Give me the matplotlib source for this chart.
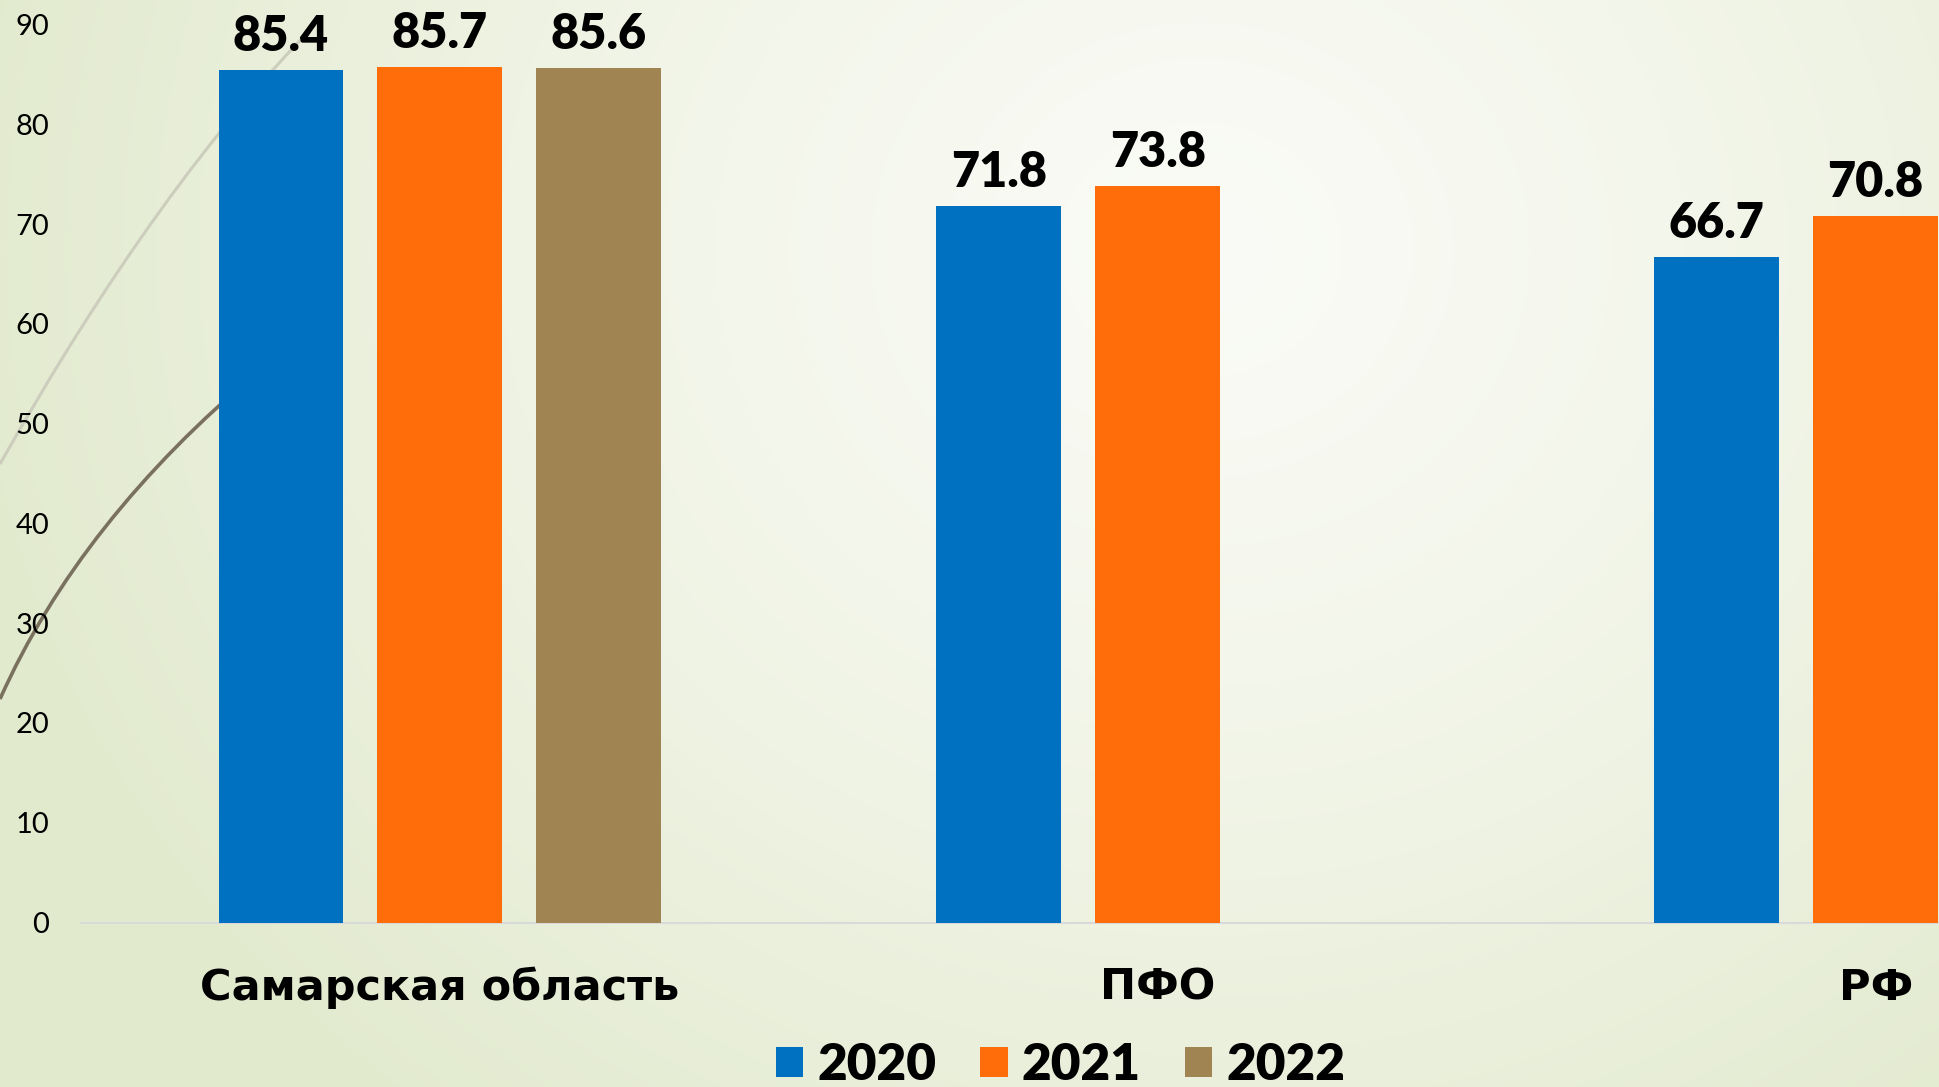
import numpy as np
import matplotlib
matplotlib.use("Agg")
import matplotlib.pyplot as plt
from matplotlib.path import Path
from matplotlib.patches import PathPatch, Patch

# ---- data ----
categories = ["Самарская область", "ПФО", "РФ"]
years = ["2020", "2021", "2022"]
v2020 = [85.4, 71.8, 66.7]
v2021 = [85.7, 73.8, 70.8]
v2022 = [85.6, np.nan, np.nan]
yticks = [0, 10, 20, 30, 40, 50, 60, 70, 80, 90]

colors = ["#0070C0", "#FF6D0B", "#A08452"]

W, H = 1939, 1087
fig = plt.figure(figsize=(W / 100, H / 100), dpi=100)

# ---- background gradient ----
bg = fig.add_axes([0, 0, 1, 1], zorder=-5)
yy, xx = np.mgrid[0:H, 0:W]
cx, cy = 1200, 250
d = np.sqrt(((xx - cx) / 1.0) ** 2 + ((yy - cy) / 0.9) ** 2)
t = np.clip(d / 1250.0, 0, 1) ** 1.3
c0 = np.array([0xFA, 0xFB, 0xF6]) / 255.0
c1 = np.array([0xE2, 0xEA, 0xCE]) / 255.0
img = c0[None, None, :] * (1 - t[..., None]) + c1[None, None, :] * t[..., None]
bg.imshow(img, extent=(0, W, H, 0), aspect="auto", interpolation="bilinear")
bg.set_xlim(0, W)
bg.set_ylim(H, 0)
bg.axis("off")

# decorative arcs
light = Path([(0, 464), (160, 180), (320, 20)], [Path.MOVETO, Path.CURVE3, Path.CURVE3])
bg.add_patch(PathPatch(light, fill=False, edgecolor="#cdcdbd", lw=2.2))
dark = Path([(0, 699), (80, 520), (260, 370)], [Path.MOVETO, Path.CURVE3, Path.CURVE3])
bg.add_patch(PathPatch(dark, fill=False, edgecolor="#7a705e", lw=2.6))

# ---- main axes ----
ax = fig.add_axes([81 / W, 0.1513, 2153.6 / W, 0.8261])
ax.set_facecolor("none")
x = np.arange(len(categories))
off = 0.2214
bw = 0.174
series = [v2020, v2021, v2022]
for i, (vals, col, yr) in enumerate(zip(series, colors, years)):
    vals = np.array(vals, dtype=float)
    m = ~np.isnan(vals)
    bars = ax.bar(x[m] + (i - 1) * off, vals[m], width=bw, color=col, label=yr, zorder=3)
    ax.bar_label(bars, labels=[f"{v:.1f}" for v in vals[m]], padding=8,
                 fontsize=35, fontweight="heavy", family=["Lato", "DejaVu Sans"], color="black")

ax.set_xlim(-0.5, 2.5)
ax.set_ylim(0, 90)
ax.set_yticks(yticks)
ax.set_yticklabels([str(v) for v in yticks], fontsize=21, family=["Lato", "DejaVu Sans"],
                   fontweight="normal", color="black")
ax.set_xticks(x)
ax.set_xticklabels(categories, fontsize=31, fontweight="bold", family=["DejaVu Sans"],
                   color="black")
for lab in ax.get_xticklabels():
    lab.set_va("center")
ax.tick_params(axis="x", length=0, pad=47)
ax.tick_params(axis="y", length=0, pad=22.7)
for s in ["top", "right", "left"]:
    ax.spines[s].set_visible(False)
ax.spines["bottom"].set_color("#d9d9d9")
ax.spines["bottom"].set_linewidth(1.5)
ax.spines["bottom"].set_zorder(2)

handles = [Patch(facecolor=c, edgecolor="none") for c in colors]
fig.legend(handles, years, loc="center", bbox_to_anchor=(0.547, 0.02), ncol=3, frameon=False,
           prop={"family": ["Lato", "DejaVu Sans"], "weight": "heavy", "size": 37},
           handlelength=0.53, handleheight=0.53, handletextpad=0.28, columnspacing=0.85,
           borderpad=0.0)

fig.savefig("out.png", dpi=100)
